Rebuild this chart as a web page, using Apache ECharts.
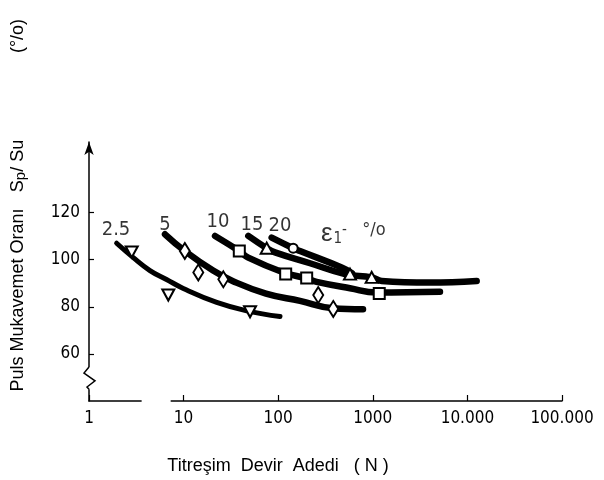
<!DOCTYPE html>
<html>
<head>
<meta charset="utf-8">
<style>
  html, body { margin: 0; background: #fff; }
  #main { width: 604px; height: 480px; }
</style>
</head>
<body>
<div id="main"></div>
<script src="https://cdn.jsdelivr.net/npm/echarts@6/dist/echarts.min.js"></script>
<script>
  // x: Titresim devir adedi N (log), y: Sp/Su (%)
  var xTickLabels = ['1', '10', '100', '1000', '10.000', '100.000'];
  var yTicks = [60, 80, 100, 120];

  // egriler (kalin siyah cizgiler), [N, Sp/Su]
  var line25 = [[1.96, 107.0], [2.94, 100.9], [4.41, 95.4], [6.6, 91.6], [9.93, 87.8], [22.4, 81.9], [46.5, 78.3], [104.5, 75.9]];
  var line5 = [[6.36, 110.8], [10.3, 103.7], [20.5, 95.4], [33.3, 90.9], [74.3, 85.6], [170, 82.5], [379, 79.4], [788, 79.0]];
  var line10 = [[21.5, 110.1], [38.8, 103.7], [48.3, 100.9], [112, 94.7], [200, 92.0], [255, 90.6], [574, 87.9], [1100, 86.1], [5130, 86.4]];
  var line15 = [[48.3, 110.1], [75.6, 104.9], [92.5, 103.1], [217, 98.5], [508, 93.9], [973, 92.5], [1242, 91.0], [4020, 90.3], [12540, 91.0]];
  var line20 = [[85.3, 109.4], [144, 104.9], [170, 103.7], [469, 96.7], [603, 94.3]];

  // olcum noktalari
  var pts25 = [[2.83, 103.3], [6.89, 85.0], [50.4, 77.9]];
  var pts5 = [[10.3, 103.7], [14.3, 94.6], [26.3, 91.7], [265, 85.0], [382, 79.1]];
  var pts10 = [[38.8, 103.7], [120, 93.9], [200, 92.2], [1170, 85.7]];
  var pts15 = [[75.6, 104.9], [574, 93.9], [973, 92.5]];
  var pts20 = [[144, 104.9]];

  // egri etiketleri
  var curveNames = ['2.5', '5', '10', '15', '20'];
  var curveLabelPos = [[1.93, 112.5], [6.36, 115.0], [23.1, 115.9], [52.8, 115.0], [104.5, 114.2]];
  var unitLabelPos = [283, 110.8];

  // eksen kirilmalari
  var xGap = [3.6, 7.3];
  var yZig = [54.4, 45.0];

  var numFont = "'Liberation Sans Narrow', 'DejaVu Sans Condensed', sans-serif";
  var txtFont = "'Liberation Sans', 'DejaVu Sans', sans-serif";

  var chart = echarts.init(document.getElementById('main'));

  function lineSeries(data, w) {
    return {
      type: 'line',
      data: data,
      smooth: 0.45,
      symbol: 'none',
      lineStyle: { color: '#000', width: w, cap: 'round', join: 'round' },
      z: 2
    };
  }

  function markSeries(data, symbol, size, rotate) {
    return {
      type: 'scatter',
      data: data,
      symbol: symbol,
      symbolSize: size,
      symbolRotate: rotate || 0,
      itemStyle: { color: '#fff', opacity: 1, borderColor: '#000', borderWidth: 2 },
      z: 5
    };
  }

  var labelData = curveNames.map(function (n, i) {
    return { name: n, value: curveLabelPos[i] };
  });

  chart.setOption({
    animation: false,
    backgroundColor: '#fff',
    grid: { left: 89, right: 42, top: 142, bottom: 79 },
    xAxis: {
      type: 'log',
      logBase: 10,
      min: 1,
      max: 100000,
      axisLine: { show: true, lineStyle: { color: '#000', width: 1.5 } },
      axisTick: { show: true, inside: true, length: 6, lineStyle: { color: '#000', width: 1.2 } },
      splitLine: { show: false },
      minorTick: { show: false },
      axisLabel: {
        color: '#000',
        fontFamily: numFont,
        fontSize: 17,
        margin: 9,
        formatter: function (v) {
          return xTickLabels[Math.round(Math.log10(v))];
        }
      }
    },
    yAxis: {
      type: 'value',
      min: 40,
      max: 150,
      axisLine: {
        show: true,
        symbol: ['none', 'arrow'],
        symbolSize: [7, 13],
        lineStyle: { color: '#000', width: 1.5 }
      },
      axisTick: { show: true, inside: true, length: 5, customValues: yTicks, lineStyle: { color: '#000', width: 1.2 } },
      splitLine: { show: false },
      axisLabel: {
        color: '#000',
        fontFamily: numFont,
        fontSize: 17,
        margin: 9,
        customValues: yTicks
      }
    },
    series: [
      lineSeries(line25, 5),
      lineSeries(line5, 6.5),
      lineSeries(line10, 6.5),
      lineSeries(line15, 6.5),
      lineSeries(line20, 6.5),
      markSeries(pts25, 'triangle', [12, 11], 180),
      markSeries(pts5, 'diamond', [10, 16]),
      markSeries(pts10, 'rect', [11, 11]),
      markSeries(pts15, 'triangle', [12, 11]),
      markSeries(pts20, 'circle', 9),
      {
        type: 'scatter',
        data: labelData,
        symbolSize: 0,
        silent: true,
        label: {
          show: true,
          position: 'inside',
          formatter: '{b}',
          color: '#000',
          fontFamily: numFont,
          fontSize: 20
        },
        z: 6
      },
      {
        type: 'scatter',
        data: [unitLabelPos],
        symbolSize: 0,
        silent: true,
        label: {
          show: true,
          position: 'right',
          distance: 0,
          formatter: '{e|ε}{s|1}{m|-}{u| °/o}',
          rich: {
            e: { fontFamily: txtFont, fontSize: 26, color: '#000' },
            s: { fontFamily: numFont, fontSize: 15, color: '#000', padding: [10, 0, 0, 1] },
            m: { fontFamily: numFont, fontSize: 15, color: '#000', padding: [0, 0, 8, 0] },
            u: { fontFamily: numFont, fontSize: 18, color: '#000', padding: [0, 0, 8, 10] }
          }
        },
        z: 6
      }
    ]
  });

  // eksen kirilmalari ve basliklar
  var origin = chart.convertToPixel({ gridIndex: 0 }, [1, 40]);
  var ax = origin[0], ay = origin[1];
  var gA = chart.convertToPixel({ xAxisIndex: 0 }, xGap[0]);
  var gB = chart.convertToPixel({ xAxisIndex: 0 }, xGap[1]);
  var zT = chart.convertToPixel({ yAxisIndex: 0 }, yZig[0]);
  var zB = chart.convertToPixel({ yAxisIndex: 0 }, yZig[1]);
  var zh = zB - zT;

  chart.setOption({
    graphic: [
      { type: 'rect', shape: { x: gA, y: ay - 4, width: gB - gA, height: 8 }, style: { fill: '#fff' }, z: 100 },
      { type: 'rect', shape: { x: ax - 4, y: zT, width: 8, height: zh }, style: { fill: '#fff' }, z: 100 },
      {
        type: 'polyline',
        shape: {
          points: [
            [ax, zT], [ax - 5, zT + zh * 0.27], [ax + 6, zT + zh * 0.62],
            [ax - 2, zT + zh * 0.9], [ax, zB]
          ]
        },
        style: { stroke: '#000', lineWidth: 1.5, fill: null },
        z: 101
      },
      {
        type: 'text', x: 18, y: 300, rotation: Math.PI / 2,
        style: { text: 'Puls Mukavemet Oranı', font: '18px ' + txtFont, fill: '#000', align: 'center', verticalAlign: 'middle' }
      },
      {
        type: 'text', x: 18, y: 166, rotation: Math.PI / 2,
        style: {
          text: '{n|S}{s|p}{n|/ Su}', align: 'center', verticalAlign: 'middle',
          rich: {
            n: { font: '18px ' + txtFont, fill: '#000' },
            s: { font: '15px ' + txtFont, fill: '#000', padding: [6, 0, 0, 0] }
          }
        }
      },
      {
        type: 'text', x: 18, y: 36, rotation: Math.PI / 2,
        style: { text: '(°/o)', font: '18px ' + txtFont, fill: '#000', align: 'center', verticalAlign: 'middle' }
      },
      {
        type: 'text', x: 278, y: 466,
        style: { text: 'Titreşim  Devir  Adedi   ( N )', font: '18px ' + txtFont, fill: '#000', align: 'center', verticalAlign: 'middle' }
      }
    ]
  });
</script>
</body>
</html>
